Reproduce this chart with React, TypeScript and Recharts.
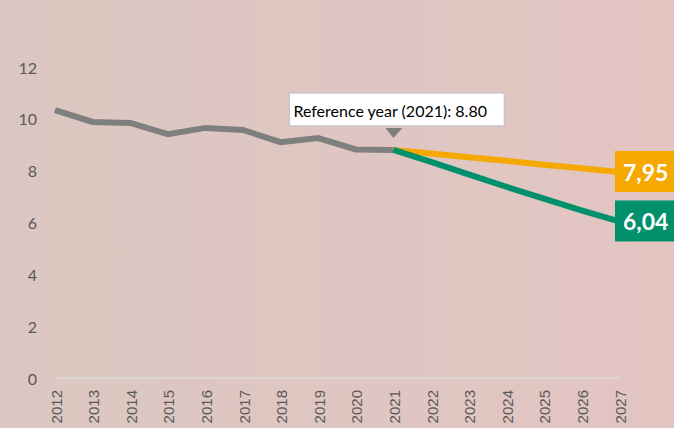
import React from "react";
import { LineChart, Line, XAxis, YAxis } from "recharts";

const years = ["2012","2013","2014","2015","2016","2017","2018","2019","2020","2021","2022","2023","2024","2025","2026","2027"];
const historical = [10.34, 9.88, 9.84, 9.41, 9.65, 9.57, 9.10, 9.26, 8.82, 8.80, null, null, null, null, null, null];
const scenarioA = [null, null, null, null, null, null, null, null, null, 8.80, 8.66, 8.52, 8.38, 8.23, 8.09, 7.95];
const scenarioB = [null, null, null, null, null, null, null, null, null, 8.80, 8.34, 7.86, 7.38, 6.92, 6.47, 6.04];
const yTicks = [0, 2, 4, 6, 8, 10, 12];
const refIndex = 9;
const refText = "Reference year (2021): 8.80";

const data = years.map((y, i) => ({
  year: y,
  hist: historical[i],
  a: scenarioA[i],
  b: scenarioB[i],
}));

const GRAY = "#7f7f7f";
const ORANGE = "#f5a800";
const GREEN = "#00906b";
const FONT = "Lato, 'Noto Sans', sans-serif";

const XTick = (props: any) => {
  const { x, y, payload } = props;
  const ty = y + 4;
  return (
    <text
      x={x + 1}
      y={ty}
      transform={`rotate(-90 ${x + 1} ${ty})`}
      textAnchor="end"
      dominantBaseline="central"
      fontFamily="'Liberation Sans', Arial, sans-serif"
      fontSize={15}
      fill="#595959"
    >
      {payload.value}
    </text>
  );
};

const YTick = (props: any) => {
  const { y, payload } = props;
  return (
    <text
      x={37}
      y={y}
      textAnchor="end"
      dominantBaseline="central"
      fontFamily={FONT}
      fontSize={16}
      fill="#595959"
    >
      {payload.value}
    </text>
  );
};

const makeEndLabel = (color: string, last: number) => (props: any) => {
  const { x, y, value, index } = props;
  if (index !== last || value == null) return null;
  return (
    <g>
      <rect x={x - 4} y={y - 21} width={80} height={41} fill={color} />
      <text
        x={x + 4}
        y={y}
        dominantBaseline="central"
        fontFamily={FONT}
        fontWeight={700}
        fontSize={23}
        fill="#ffffff"
      >
        {String(Number(value).toFixed(2)).replace(".", ",")}
      </text>
    </g>
  );
};

const RefLabel = (props: any) => {
  const { x, y, index } = props;
  if (index !== refIndex) return null;
  const boxW = 215;
  const boxH = 33;
  const bx = x - 104;
  const by = y - 57;
  return (
    <g>
      <rect x={bx} y={by} width={boxW} height={boxH} fill="#ffffff" stroke="#c8c8c8" strokeWidth={1.5} />
      <text
        x={bx + 4}
        y={by + boxH / 2 + 1}
        dominantBaseline="central"
        fontFamily={FONT}
        fontSize={16}
        fill="#000000"
      >
        {refText}
      </text>
      <path d={`M ${x - 8} ${y - 22} L ${x + 9} ${y - 22} L ${x} ${y - 12} Z`} fill={GRAY} />
    </g>
  );
};

export default function App() {
  return (
    <div
      style={{
        position: "absolute",
        left: 0,
        top: 0,
        width: 674,
        height: 428,
        overflow: "hidden",
        background: "linear-gradient(to right, rgb(219,199,193), rgb(227,197,194))",
      }}
    >
      <LineChart
        width={674}
        height={428}
        data={data}
        margin={{ top: 67, right: 55, bottom: 0, left: 0 }}
      >
        <XAxis
          dataKey="year"
          interval={0}
          height={50}
          padding={{ left: 0, right: 0 }}
          axisLine={{ stroke: "#dcd6d4", strokeWidth: 2 }}
          tickLine={false}
          tick={<XTick />}
        />
        <YAxis
          width={55}
          domain={[0, 12]}
          ticks={yTicks}
          axisLine={false}
          tickLine={false}
          tick={<YTick />}
        />
        <Line
          dataKey="hist"
          stroke={GRAY}
          strokeWidth={6}
          dot={false}
          isAnimationActive={false}
          connectNulls={false}
          label={RefLabel}
        />
        <Line
          dataKey="a"
          stroke={ORANGE}
          strokeWidth={6}
          dot={false}
          isAnimationActive={false}
          label={makeEndLabel(ORANGE, years.length - 1)}
        />
        <Line
          dataKey="b"
          stroke={GREEN}
          strokeWidth={6}
          dot={false}
          isAnimationActive={false}
          label={makeEndLabel(GREEN, years.length - 1)}
        />
      </LineChart>
    </div>
  );
}
